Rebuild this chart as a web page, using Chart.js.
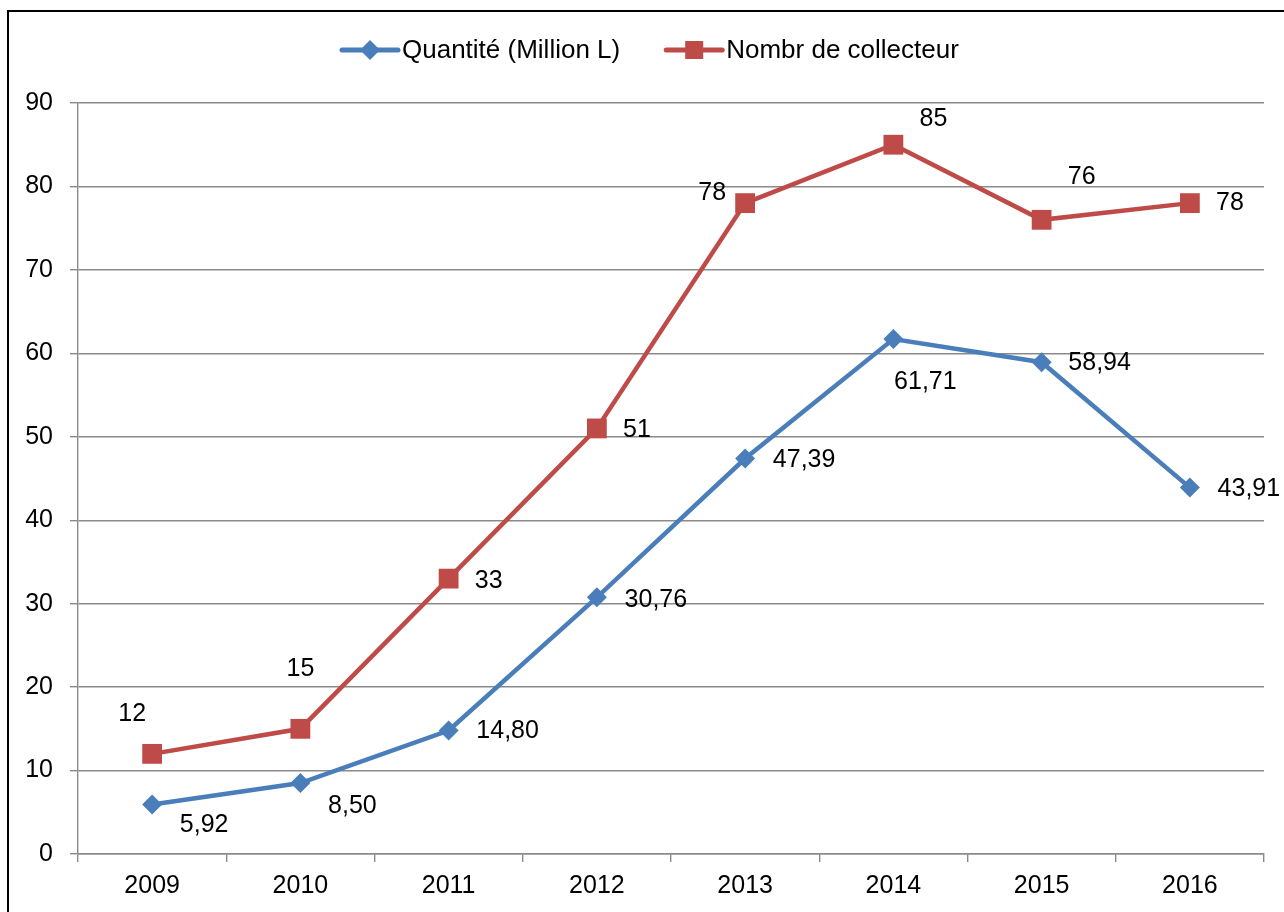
<!DOCTYPE html>
<html>
<head>
<meta charset="utf-8">
<script src="https://cdn.jsdelivr.net/npm/chart.js@4/dist/chart.umd.min.js"></script>
<style>
  html, body { margin: 0; padding: 0; background: #fff; }
  #wrap { width: 1284px; height: 912px; }
</style>
</head>
<body>
<div id="wrap"><canvas id="lineChart" width="1284" height="912"></canvas></div>
<script>
"use strict";

const years = ['2009', '2010', '2011', '2012', '2013', '2014', '2015', '2016'];
const quantite = [5.92, 8.50, 14.80, 30.76, 47.39, 61.71, 58.94, 43.91];
const collecteurs = [12, 15, 33, 51, 78, 85, 76, 78];
const yTicks = [0, 10, 20, 30, 40, 50, 60, 70, 80, 90];

// where each value label sits relative to its point (dx, dy)
const quantiteLabelPos = [[52, 21], [52, 23], [59, 1], [59, 3], [59, 2], [32, 43], [58, 1], [59, 2]];
const collecteurLabelPos = [[-20, -40], [0, -60], [40, 2], [40, 2], [-33, -10], [40, -26], [40, -43], [40, 0]];

const FONT = '"Liberation Sans", Arial, sans-serif';
const BLUE = '#4a7ebb';
const RED = '#be4b48';
const GRID = '#8a8a8a';

Chart.defaults.font.family = FONT;
Chart.defaults.font.size = 25;
Chart.defaults.color = '#000';

// frame round the picture
const framePlugin = {
  id: 'frame',
  beforeDraw(chart) {
    const c = chart.ctx;
    c.save();
    c.fillStyle = '#fff';
    c.fillRect(0, 0, chart.width, chart.height);
    c.strokeStyle = '#000';
    c.lineWidth = 2;
    c.strokeRect(8, 11, chart.width + 20, chart.height + 20);
    c.restore();
  }
};

// value labels next to the points
const valueLabels = {
  id: 'valueLabels',
  afterDatasetsDraw(chart) {
    const c = chart.ctx;
    c.save();
    c.font = '25px ' + FONT;
    c.fillStyle = '#000';
    c.textAlign = 'center';
    c.textBaseline = 'middle';
    chart.data.datasets.forEach((ds, i) => {
      const meta = chart.getDatasetMeta(i);
      meta.data.forEach((pt, j) => {
        const off = ds.labelPos[j];
        c.fillText(ds.fmt(ds.data[j]), pt.x + off[0], pt.y + off[1]);
      });
    });
    c.restore();
  }
};

// legend with line + marker like the spreadsheet one
const lineLegend = {
  id: 'lineLegend',
  afterDraw(chart) {
    const c = chart.ctx;
    c.save();
    c.font = '26px ' + FONT;
    c.textBaseline = 'middle';
    let x = 342;
    const y = 50;
    chart.data.datasets.forEach((ds) => {
      c.strokeStyle = ds.borderColor;
      c.lineWidth = 5;
      c.lineCap = 'round';
      c.beginPath();
      c.moveTo(x, y);
      c.lineTo(x + 56, y);
      c.stroke();
      c.fillStyle = ds.borderColor;
      c.beginPath();
      if (ds.pointStyle === 'rectRot') {
        c.moveTo(x + 28, y - 10);
        c.lineTo(x + 38, y);
        c.lineTo(x + 28, y + 10);
        c.lineTo(x + 18, y);
        c.closePath();
      } else {
        c.rect(x + 19, y - 9, 18, 18);
      }
      c.fill();
      c.fillStyle = '#000';
      c.fillText(ds.label, x + 60, y + 1);
      x += 60 + c.measureText(ds.label).width + 46;
    });
    c.restore();
  }
};

const ctx = document.getElementById('lineChart').getContext('2d');
const myChart = new Chart(ctx, {
  type: 'line',
  data: {
    labels: years,
    datasets: [
      {
        label: 'Quantité (Million L)',
        data: quantite,
        borderColor: BLUE,
        backgroundColor: BLUE,
        borderWidth: 4.5,
        pointStyle: 'rectRot',
        pointRadius: 10,
        pointBorderWidth: 0,
        tension: 0,
        labelPos: quantiteLabelPos,
        fmt: v => v.toFixed(2).replace('.', ',')
      },
      {
        label: 'Nombr de collecteur',
        data: collecteurs,
        borderColor: RED,
        backgroundColor: RED,
        borderWidth: 4.5,
        pointStyle: 'rect',
        pointRadius: 14,
        pointBorderWidth: 0,
        tension: 0,
        labelPos: collecteurLabelPos,
        fmt: v => String(v)
      }
    ]
  },
  options: {
    responsive: false,
    animation: false,
    layout: { padding: { top: 103, right: 20, left: 0, bottom: 0 } },
    plugins: {
      legend: { display: false },
      tooltip: { enabled: false }
    },
    scales: {
      x: {
        type: 'category',
        offset: true,
        grid: { offset: true, drawOnChartArea: false, drawTicks: true, tickLength: 8, color: GRID, lineWidth: 1.4 },
        border: { display: true, color: GRID, width: 1.4 },
        ticks: { padding: 9, color: '#000', font: { size: 25 } },
        afterFit(scale) { scale.height = 58; }
      },
      y: {
        min: 0,
        max: 90,
        afterBuildTicks(scale) { scale.ticks = yTicks.map(v => ({ value: v })); },
        grid: { color: GRID, lineWidth: 1.4, tickLength: 8 },
        border: { display: true, color: GRID, width: 1.4 },
        ticks: { padding: 17, color: '#000', font: { size: 25 } },
        afterFit(scale) { scale.width = 78; }
      }
    }
  },
  plugins: [framePlugin, valueLabels, lineLegend]
});
</script>
</body>
</html>
